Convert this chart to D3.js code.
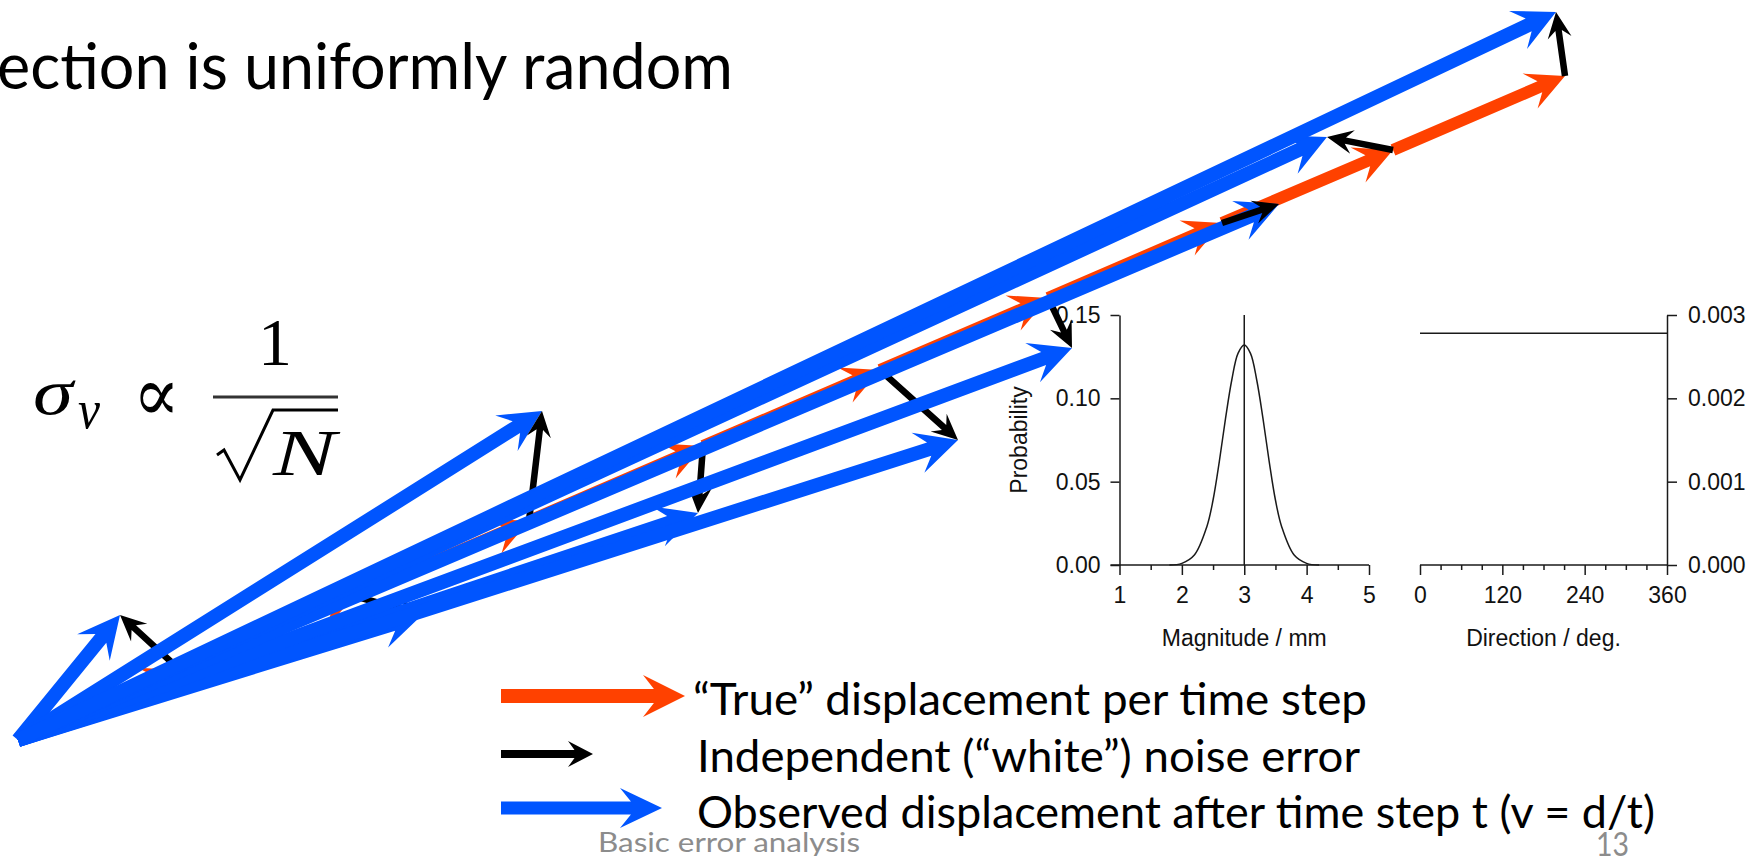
<!DOCTYPE html>
<html><head><meta charset="utf-8">
<script src="https://cdn.jsdelivr.net/npm/d3@7"></script>
<style>html,body{margin:0;padding:0;background:#fff;overflow:hidden}</style>
</head><body>
<svg id="c" width="1756" height="856"></svg>
<script>
// ---------------- data ----------------
// true (cumulative) positions after each time step, displacement units
const trueX = [0, 1.62, 3.36, 5.11, 6.85, 8.62, 10.30, 12.04, 13.75, 15.47];
const trueY = [0, 0.70, 1.44, 2.19, 2.94, 3.70, 4.42, 5.17, 5.90, 6.64];
// observed positions (true + white noise)
const obsX = [1.02, 4.04, 5.24, 6.80, 9.40, 10.54, 12.61, 13.09, 15.38];
const obsY = [1.25, 1.25, 3.29, 2.27, 3.00, 3.92, 5.36, 6.03, 7.28];
// magnitude distribution
const magX = [1.8, 2.0, 2.2, 2.4, 2.5, 2.6, 2.7, 2.8, 2.9, 3.0, 3.1, 3.2, 3.3, 3.4, 3.5, 3.6, 3.8, 4.0, 4.2];
const magP = [0, 0.001, 0.006, 0.023, 0.039, 0.062, 0.088, 0.111, 0.127, 0.132, 0.127, 0.111, 0.088, 0.062, 0.039, 0.023, 0.006, 0.001, 0];
const magMean = 3;
const magTicks = [1, 2, 3, 4, 5];
const magMinorTicks = [1.5, 2.5, 3.5, 4.5];
const probTicks = [0, 0.05, 0.10, 0.15];
// direction distribution (uniform)
const dirX = [0, 360];
const dirP = [0.00278, 0.00278];
const dirTicks = [0, 120, 240, 360];
const dirMinorTicks = [30, 60, 90, 150, 180, 210, 270, 300, 330];
const dirProbTicks = [0, 0.001, 0.002, 0.003];
// texts
const titleText = "ection is uniformly random";
const legendLabels = ["\u201CTrue\u201D displacement per time step",
                      "Independent (\u201Cwhite\u201D) noise error",
                      "Observed displacement after time step t (v = d/t)"];
const footerText = "Basic error analysis";
const pageNum = "13";

// ---------------- setup ----------------
const ORANGE = "#ff4100", BLUE = "#0055ff", BLACK = "#000";
const svg = d3.select("#c");
const SANS = "Lato, 'Open Sans', sans-serif";
const HELV = "'Liberation Sans', Arial, sans-serif";

function arrowPath(x1, y1, x2, y2, w, L, H, notch) {
  const dx = x2 - x1, dy = y2 - y1, len = Math.hypot(dx, dy);
  const ux = dx / len, uy = dy / len, px = -uy, py = ux;
  const s = Math.max(0, len - L * notch);
  const bx = x2 - ux * L, by = y2 - uy * L;
  const pts = [
    [x1 + px * w / 2, y1 + py * w / 2],
    [x1 + ux * s + px * w / 2, y1 + uy * s + py * w / 2],
    [bx + px * H, by + py * H],
    [x2, y2],
    [bx - px * H, by - py * H],
    [x1 + ux * s - px * w / 2, y1 + uy * s - py * w / 2],
    [x1 - px * w / 2, y1 - py * w / 2]
  ];
  return "M" + pts.map(p => p[0].toFixed(2) + "," + p[1].toFixed(2)).join("L") + "Z";
}

// ---------------- title ----------------
svg.append("text").attr("x", -3).attr("y", 89)
  .attr("font-family", SANS).attr("font-size", 64).attr("fill", "#000")
  .attr("textLength", 736).attr("lengthAdjust", "spacingAndGlyphs")
  .text(titleText);

// ---------------- formula ----------------
const SERIF = "'Liberation Serif', 'DejaVu Serif', serif";
const f = svg.append("g");
f.append("text").attr("x", 33).attr("y", 414).attr("font-family", SERIF)
  .attr("font-style", "italic").attr("font-size", 66).attr("textLength", 40)
  .attr("lengthAdjust", "spacingAndGlyphs").text("\u03C3");
f.append("text").attr("x", 78).attr("y", 428).attr("font-family", SERIF)
  .attr("font-style", "italic").attr("font-size", 54).attr("textLength", 22)
  .attr("lengthAdjust", "spacingAndGlyphs").text("v");
f.append("text").attr("x", 133).attr("y", 421).attr("font-family", "'DejaVu Serif', serif")
  .attr("font-size", 78).attr("textLength", 47)
  .attr("lengthAdjust", "spacingAndGlyphs").text("\u221D");
f.append("text").attr("x", 275).attr("y", 365).attr("text-anchor", "middle")
  .attr("font-family", SERIF).attr("font-size", 68).text("1");
f.append("line").attr("x1", 213).attr("x2", 338).attr("y1", 397).attr("y2", 397)
  .attr("stroke", "#333").attr("stroke-width", 3);
f.append("path").attr("d", "M217,455 L224,450 L240,480 L273,410 L338,410")
  .attr("fill", "none").attr("stroke", "#000").attr("stroke-width", 3);
f.append("text").attr("x", 273).attr("y", 475).attr("font-family", SERIF)
  .attr("font-style", "italic").attr("font-size", 66).attr("textLength", 63)
  .attr("lengthAdjust", "spacingAndGlyphs").text("N");

// ---------------- inset: magnitude ----------------
const mx = d3.scaleLinear().domain([1, 5]).range([1119.5, 1369]);
const my = d3.scaleLinear().domain([0, 0.15]).range([565, 315]);
const dxs = d3.scaleLinear().domain([0, 360]).range([1420, 1667]);
const dys = d3.scaleLinear().domain([0, 0.003]).range([565, 315]);
const inset = svg.append("g").attr("font-family", HELV);
const AX = "#1a1a1a";

function styleAxis(g, size) {
  g.selectAll("path,line").attr("stroke", AX).attr("stroke-width", 1.5);
  g.selectAll("text").attr("font-size", size).attr("fill", "#111").attr("font-family", HELV);
}
inset.append("g").attr("transform", `translate(${mx(1)},0)`)
  .call(d3.axisLeft(my).tickValues(probTicks).tickFormat(d3.format(".2f"))
    .tickSize(9).tickPadding(10).tickSizeOuter(0))
  .call(g => styleAxis(g, 23));
inset.append("g").attr("transform", `translate(0,${my(0)})`)
  .call(d3.axisBottom(mx).tickValues(magMinorTicks).tickFormat("").tickSize(5).tickSizeOuter(0))
  .call(g => g.select(".domain").remove())
  .call(g => styleAxis(g, 23));
inset.append("g").attr("transform", `translate(0,${my(0)})`)
  .call(d3.axisBottom(mx).tickValues(magTicks).tickFormat(d3.format("d")).tickSize(10).tickPadding(12).tickSizeOuter(0))
  .call(g => g.select(".domain").remove())
  .call(g => styleAxis(g, 23));
inset.append("line").attr("x1", mx(1) - 9).attr("x2", mx(5))
  .attr("y1", my(0)).attr("y2", my(0)).attr("stroke", AX).attr("stroke-width", 1.5);
inset.append("line").attr("x1", mx(magMean)).attr("x2", mx(magMean))
  .attr("y1", my(0)).attr("y2", my(0.15)).attr("stroke", AX).attr("stroke-width", 1.5);
inset.append("path").datum(magX.map((x, i) => [x, magP[i]]))
  .attr("d", d3.line().x(d => mx(d[0])).y(d => my(d[1])).curve(d3.curveCatmullRom))
  .attr("fill", "none").attr("stroke", AX).attr("stroke-width", 1.5);
inset.append("text").attr("x", (mx(1) + mx(5)) / 2).attr("y", 646).attr("text-anchor", "middle")
  .attr("font-size", 23).attr("fill", "#111").text("Magnitude / mm");
inset.append("text").attr("transform", `translate(1027,${(my(0) + my(0.15)) / 2}) rotate(-90)`)
  .attr("text-anchor", "middle").attr("font-size", 23).attr("fill", "#111").text("Probability");

// ---------------- inset: direction ----------------
inset.append("g").attr("transform", `translate(${dxs(360)},0)`)
  .call(d3.axisRight(dys).tickValues(dirProbTicks).tickFormat(d3.format(".3f"))
    .tickSize(10).tickPadding(11).tickSizeOuter(0))
  .call(g => styleAxis(g, 23));
inset.append("g").attr("transform", `translate(0,${dys(0)})`)
  .call(d3.axisBottom(dxs).tickValues(dirMinorTicks).tickFormat("").tickSize(5).tickSizeOuter(0))
  .call(g => g.select(".domain").remove())
  .call(g => styleAxis(g, 23));
inset.append("g").attr("transform", `translate(0,${dys(0)})`)
  .call(d3.axisBottom(dxs).tickValues(dirTicks).tickFormat(d3.format("d")).tickSize(10).tickPadding(12).tickSizeOuter(0))
  .call(g => g.select(".domain").remove())
  .call(g => styleAxis(g, 23));
inset.append("line").attr("x1", dxs(0)).attr("x2", dxs(360))
  .attr("y1", dys(0)).attr("y2", dys(0)).attr("stroke", AX).attr("stroke-width", 1.5);
inset.append("path").datum(dirX.map((x, i) => [x, dirP[i]]))
  .attr("d", d3.line().x(d => dxs(d[0])).y(d => dys(d[1])))
  .attr("fill", "none").attr("stroke", AX).attr("stroke-width", 1.5);
inset.append("text").attr("x", (dxs(0) + dxs(360)) / 2).attr("y", 646).attr("text-anchor", "middle")
  .attr("font-size", 23).attr("fill", "#111").text("Direction / deg.");

// ---------------- displacement arrows ----------------
const sx = d3.scaleLinear().domain([0, 16]).range([18, 1618]);
const sy = d3.scaleLinear().domain([0, 8]).range([740, -60]);
const arrows = svg.append("g");
for (let i = 1; i < trueX.length; i++) {
  arrows.append("path")
    .attr("d", arrowPath(sx(trueX[i - 1]), sy(trueY[i - 1]), sx(trueX[i]), sy(trueY[i]), 12, 38, 19, 0.72))
    .attr("fill", ORANGE);
}
for (let i = 0; i < obsX.length; i++) {
  arrows.append("path")
    .attr("d", arrowPath(sx(0), sy(0), sx(obsX[i]), sy(obsY[i]), 14, 42, 21, 0.72))
    .attr("fill", BLUE);
  arrows.append("path")
    .attr("d", arrowPath(sx(trueX[i + 1]), sy(trueY[i + 1]), sx(obsX[i]), sy(obsY[i]), 6.5, 26, 12, 0.72))
    .attr("fill", BLACK);
}

// ---------------- legend ----------------
const legColors = [ORANGE, BLACK, BLUE];
const legY = [696, 754, 808];
const legEnd = [685, 593, 662];
const legW = [14, 8, 13], legL = [42, 25, 42], legH = [21, 13, 20];
const legTextX = [693, 697, 697], legBase = [715, 772, 828], legLen = [674, 663, 958];
const leg = svg.append("g");
legColors.forEach((c, i) => {
  leg.append("path").attr("d", arrowPath(501, legY[i], legEnd[i], legY[i], legW[i], legL[i], legH[i], 0.74))
    .attr("fill", c);
  leg.append("text").attr("x", legTextX[i]).attr("y", legBase[i])
    .attr("font-family", SANS).attr("font-size", 44).attr("fill", "#000")
    .attr("textLength", legLen[i]).attr("lengthAdjust", "spacingAndGlyphs")
    .text(legendLabels[i]);
});

// ---------------- footer ----------------
svg.append("text").attr("x", 598).attr("y", 852).attr("font-family", SANS)
  .attr("font-size", 26).attr("fill", "#8c8c8c").attr("textLength", 262)
  .attr("lengthAdjust", "spacingAndGlyphs").text(footerText);
svg.append("text").attr("x", 1596).attr("y", 856).attr("font-family", SANS)
  .attr("font-size", 32).attr("fill", "#8c8c8c").attr("textLength", 33)
  .attr("lengthAdjust", "spacingAndGlyphs").text(pageNum);
</script>
</body></html>
